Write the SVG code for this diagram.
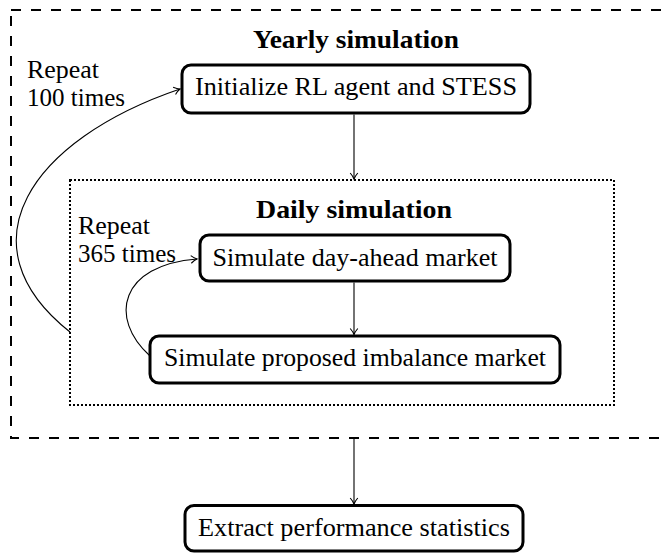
<svg xmlns="http://www.w3.org/2000/svg" width="663" height="553" viewBox="0 0 663 553">
<style>
  .lbl { font-family: 'Liberation Serif', 'DejaVu Serif', serif; font-size: 25.5px; fill: #000; }
  .head { font-family: 'Liberation Serif', 'DejaVu Serif', serif; font-size: 25px; font-weight: bold; fill: #000; }
  .node rect { fill: #fff; stroke: #000; stroke-width: 3; }
  .conn { fill: none; stroke: #000; stroke-width: 1.1; marker-end: url(#arr); }
  .outer { fill: none; stroke: #000; stroke-width: 2; stroke-dasharray: 10 10; }
  .inner { fill: none; stroke: #000; stroke-width: 2; stroke-dasharray: 2 2; }
</style>
<defs>
  <marker id="arr" markerWidth="12" markerHeight="10" refX="0" refY="0" viewBox="-7 -5 9 10" orient="auto" markerUnits="userSpaceOnUse">
    <path d="M-6,-3.8 Q-2.5,-0.8 0,0 Q-2.5,0.8 -6,3.8" fill="none" stroke="#000" stroke-width="1.1"/>
  </marker>
</defs>
<rect width="663" height="553" fill="#fff"/>
<g id="yearly">
  <rect class="outer" x="11" y="10" width="700" height="428"/>
  <text class="head" x="356" y="48" text-anchor="middle" textLength="206" lengthAdjust="spacingAndGlyphs">Yearly simulation</text>
  <text class="lbl" x="27" y="78" textLength="72" lengthAdjust="spacingAndGlyphs">Repeat</text>
  <text class="lbl" x="27" y="106" textLength="98" lengthAdjust="spacingAndGlyphs">100 times</text>
</g>
<g id="daily">
  <rect class="inner" x="70" y="180" width="544" height="225"/>
  <text class="head" x="354" y="218" text-anchor="middle" textLength="196" lengthAdjust="spacingAndGlyphs">Daily simulation</text>
  <text class="lbl" x="78" y="234" textLength="72" lengthAdjust="spacingAndGlyphs">Repeat</text>
  <text class="lbl" x="78" y="262" textLength="98" lengthAdjust="spacingAndGlyphs">365 times</text>
</g>
<g id="init" class="node">
  <rect x="182" y="65" width="348" height="48" rx="9"/>
  <text class="lbl" x="356" y="95" text-anchor="middle" textLength="322" lengthAdjust="spacingAndGlyphs">Initialize RL agent and STESS</text>
</g>
<g id="dayahead" class="node">
  <rect x="200" y="235" width="310" height="46" rx="9"/>
  <text class="lbl" x="355" y="266" text-anchor="middle" textLength="285" lengthAdjust="spacingAndGlyphs">Simulate day-ahead market</text>
</g>
<g id="imbalance" class="node">
  <rect x="150" y="336" width="410" height="47" rx="9"/>
  <text class="lbl" x="355" y="366" text-anchor="middle" textLength="382" lengthAdjust="spacingAndGlyphs">Simulate proposed imbalance market</text>
</g>
<g id="extract" class="node">
  <rect x="185" y="505.5" width="338" height="45.5" rx="9"/>
  <text class="lbl" x="354" y="536" text-anchor="middle" textLength="312" lengthAdjust="spacingAndGlyphs">Extract performance statistics</text>
</g>
<g id="connectors">
  <path class="conn" d="M354,114.5 L354,179"/>
  <path class="conn" d="M354,282.5 L354,334.5"/>
  <path class="conn" d="M354,439 L354,504"/>
  <path class="conn" d="M70,332 C-40,245 30,140 180,89"/>
  <path class="conn" d="M150,356 C108,318 120,265 197,259"/>
</g>
</svg>
